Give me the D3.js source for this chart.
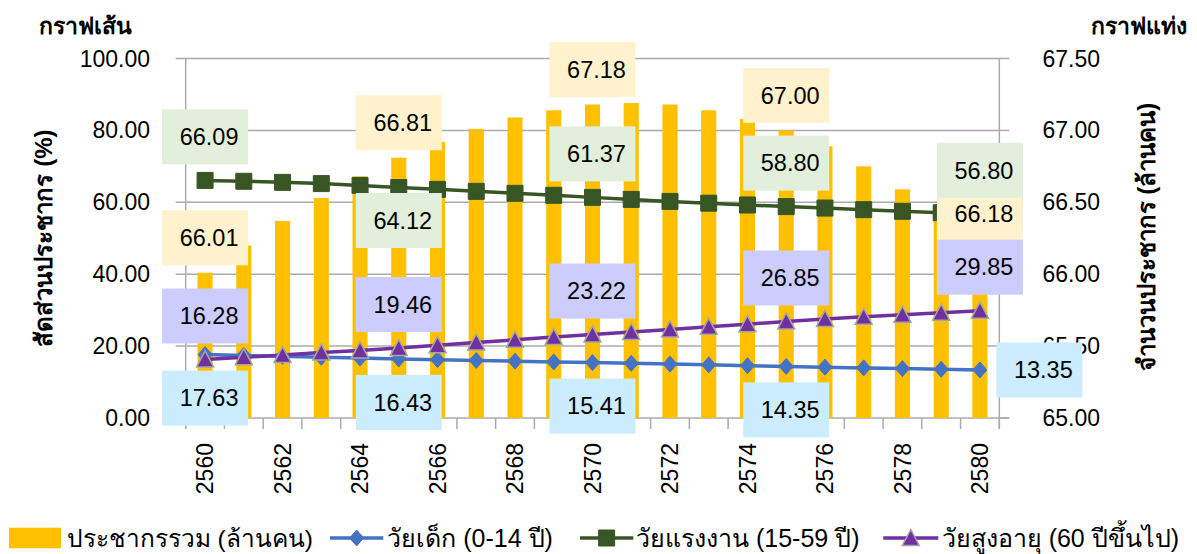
<!DOCTYPE html>
<html><head><meta charset="utf-8">
<script src="https://cdn.jsdelivr.net/npm/d3@7"></script>
<style>
body{margin:0;background:#fff}
text{font-family:"Liberation Sans",Arial,"Noto Sans",sans-serif;fill:#000}
</style>
</head><body>
<svg id="chart" width="1197" height="554"></svg>
<script>
// ---- data ----
const years = ["2560","2561","2562","2563","2564","2565","2566","2567","2568","2569","2570",
               "2571","2572","2573","2574","2575","2576","2577","2578","2579","2580"];
const totalPop = [66.01,66.20,66.37,66.53,66.68,66.81,66.92,67.01,67.09,67.14,67.18,
                  67.19,67.18,67.14,67.08,67.00,66.89,66.75,66.59,66.39,66.18];
const child = [17.63,17.40,17.15,16.90,16.66,16.43,16.22,16.02,15.82,15.61,15.41,
               15.20,14.99,14.78,14.56,14.35,14.14,13.94,13.74,13.54,13.35];
const working = [66.09,65.85,65.55,65.20,64.70,64.12,63.60,63.05,62.50,61.95,61.37,
                 60.80,60.25,59.75,59.25,58.80,58.40,57.95,57.50,57.10,56.80];
const elderly = [16.28,16.90,17.50,18.20,18.80,19.46,20.25,21.00,21.75,22.50,23.22,
                 23.95,24.65,25.35,26.10,26.85,27.55,28.15,28.75,29.30,29.85];
const leftTicks = [0,20,40,60,80,100];
const rightTicks = [65.00,65.50,66.00,66.50,67.00,67.50];
const xTickLabels = ["2560","2562","2564","2566","2568","2570","2572","2574","2576","2578","2580"];
const labelYears = ["2560","2565","2570","2575","2580"];
const seriesNames = ["ประชากรรวม (ล้านคน)","วัยเด็ก (0-14 ปี)","วัยแรงงาน (15-59 ปี)","วัยสูงอายุ (60 ปีขึ้นไป)"];
const leftTitle = "สัดส่วนประชากร (%)";
const rightTitle = "จำนวนประชากร (ล้านคน)";
const leftCorner = "กราฟเส้น";
const rightCorner = "กราฟแท่ง";

// ---- layout ----
const L = 185.7, R = 999.3, T = 58.5, B = 418;
const svg = d3.select("#chart");
const x = d3.scaleBand().domain(years).range([L, R]).padding(0);
const yL = d3.scaleLinear().domain([0,100]).range([B, T]);
const yR = d3.scaleLinear().domain([65,67.5]).range([B, T]);
const cx = d => x(d) + x.bandwidth()/2;
const grid = "#ABABAB";
const font = "23px";

// gridlines + left ticks
svg.append("g").selectAll("line").data(leftTicks.filter(v=>v>0)).join("line")
  .attr("x1", L-10).attr("x2", R).attr("y1", d=>yL(d)).attr("y2", d=>yL(d))
  .attr("stroke", grid).attr("stroke-width", 1.5);
// right ticks
svg.append("g").selectAll("line").data(rightTicks).join("line")
  .attr("x1", R).attr("x2", R+10).attr("y1", d=>yR(d)).attr("y2", d=>yR(d))
  .attr("stroke", grid).attr("stroke-width", 1.5);
// axis lines
svg.append("line").attr("x1",L).attr("x2",L).attr("y1",T).attr("y2",B+11).attr("stroke",grid).attr("stroke-width",1.5);
svg.append("line").attr("x1",R).attr("x2",R).attr("y1",T).attr("y2",B+11).attr("stroke",grid).attr("stroke-width",1.5);
svg.append("line").attr("x1",L-10).attr("x2",R+10).attr("y1",B).attr("y2",B).attr("stroke",grid).attr("stroke-width",1.5);
// category ticks
const edges = years.map(d=>x(d)).concat([R]);
svg.append("g").selectAll("line").data(edges).join("line")
  .attr("x1", d=>d).attr("x2", d=>d).attr("y1", B).attr("y2", B+11)
  .attr("stroke", grid).attr("stroke-width", 1.5);

// left tick labels
svg.append("g").selectAll("text").data(leftTicks).join("text")
  .attr("x", 150).attr("y", d=>yL(d)).attr("dy","0.35em").attr("text-anchor","end")
  .style("font-size", font).text(d=>d.toFixed(2));
// right tick labels
svg.append("g").selectAll("text").data(rightTicks).join("text")
  .attr("x", 1042.5).attr("y", d=>yR(d)).attr("dy","0.35em").attr("text-anchor","start")
  .style("font-size", font).text(d=>d.toFixed(2));
// x tick labels
svg.append("g").selectAll("text").data(xTickLabels).join("text")
  .attr("transform", d=>`translate(${cx(d)},443) rotate(-90)`)
  .attr("dy","0.35em").attr("text-anchor","end").style("font-size", font).text(d=>d);

// bars
const bw = x.bandwidth()*0.39;
svg.append("g").selectAll("rect").data(totalPop).join("rect")
  .attr("x", (d,i)=>cx(years[i]) - bw/2).attr("width", bw)
  .attr("y", d=>yR(d)).attr("height", d=>B - yR(d)).attr("fill","#FFC000");

// lines
const lineGen = d3.line().x((d,i)=>cx(years[i])).y(d=>yL(d));
const lineSpecs = [
  {data: child, color:"#4472C4", marker:"diamond", lw:3.5},
  {data: working, color:"#375623", marker:"square", lw:3.5},
  {data: elderly, color:"#7030A0", marker:"triangle", lw:3.5}
];
lineSpecs.forEach(s=>{
  svg.append("path").datum(s.data).attr("d", lineGen).attr("fill","none")
    .attr("stroke", s.color).attr("stroke-width", s.lw).attr("stroke-linejoin","round");
});
function markerPath(type){
  if(type==="diamond") return "M0,-8L7,0L0,8L-7,0Z";
  if(type==="square") return "M-8,-8H8V8H-8Z";
  return "M0,-8.5L8.5,7.5L-8.5,7.5Z";
}
lineSpecs.forEach(s=>{
  svg.append("g").selectAll("path").data(s.data).join("path")
    .attr("transform",(d,i)=>`translate(${cx(years[i])},${yL(d)})`)
    .attr("d", markerPath(s.marker)).attr("fill", s.color)
    .attr("stroke", s.marker==="triangle" ? "#A5A5A5" : s.color)
    .attr("stroke-width", s.marker==="triangle" ? 1.5 : 1);
});

// data labels
const BW = 86, BH = 55;
function drawLabel(px, py, pos, val, bg){
  let bx, by;
  if(pos==="top"){ bx = px-BW/2; by = py-7.5-BH; }
  else if(pos==="above"){ bx = px-BW/2; by = py-16-BH; }
  else if(pos==="below"){ bx = px-BW/2; by = py+16; }
  else if(pos==="belowNear"){ bx = px-BW/2; by = py+5.5; }
  else { bx = px+16.4; by = py-BH/2; }
  svg.append("rect").attr("x",bx).attr("y",by).attr("width",BW).attr("height",BH).attr("fill",bg);
  svg.append("text").attr("x",bx+BW/2+4).attr("y",by+BH/2).attr("dy","0.35em")
    .attr("text-anchor","middle").style("font-size","23.5px").text(val.toFixed(2));
}
const labelSets = [
  {data: totalPop, scale: yR, pos:["top","top","top","top","top"], bg:"#FFF2CC"},
  {data: working, scale: yL, pos:["above","belowNear","above","above","above"], bg:"#E2EFDA"},
  {data: elderly, scale: yL, pos:["above","above","above","above","above"], bg:"#CCCCFF"},
  {data: child, scale: yL, pos:["below","below","below","below","right"], bg:"#CCECFF"}
];
labelSets.forEach(s=>{
  labelYears.forEach((yr,k)=>{
    const i = years.indexOf(yr);
    drawLabel(cx(yr), s.scale(s.data[i]), s.pos[k], s.data[i], s.bg);
  });
});

// titles
svg.append("text").attr("x",39).attr("y",34).style("font-size","23px").style("font-weight","bold").text(leftCorner);
svg.append("text").attr("x",1187).attr("y",34).attr("text-anchor","end").style("font-size","23px").style("font-weight","bold").text(rightCorner);
svg.append("text").attr("transform","translate(52,238) rotate(-90)").attr("text-anchor","middle")
  .style("font-size","24px").style("font-weight","bold").text(leftTitle);
svg.append("text").attr("transform","translate(1155,237) rotate(-90)").attr("text-anchor","middle")
  .style("font-size","24px").style("font-weight","bold").text(rightTitle);

// legend
const lg = svg.append("g");
const ly = 538;
const legFont = "25px";
lg.append("rect").attr("x",9).attr("y",527.7).attr("width",52).attr("height",20.6).attr("fill","#FFC000");
lg.append("text").attr("x",66.7).attr("y",ly).attr("dy","0.35em").style("font-size","24.5px").text(seriesNames[0]);
const legLines = [
  {x0:330, x1:383.3, tx:387.3, s:lineSpecs[0], name:seriesNames[1]},
  {x0:580, x1:633.3, tx:636, s:lineSpecs[1], name:seriesNames[2]},
  {x0:883.3, x1:938.3, tx:941.7, s:lineSpecs[2], name:seriesNames[3]}
];
legLines.forEach(o=>{
  lg.append("line").attr("x1",o.x0).attr("x2",o.x1).attr("y1",ly).attr("y2",ly)
    .attr("stroke",o.s.color).attr("stroke-width",o.s.lw);
  lg.append("path").attr("transform",`translate(${(o.x0+o.x1)/2},${ly})`).attr("d",markerPath(o.s.marker))
    .attr("fill",o.s.color).attr("stroke", o.s.marker==="triangle" ? "#A5A5A5" : o.s.color)
    .attr("stroke-width", o.s.marker==="triangle" ? 1.5 : 1);
  lg.append("text").attr("x",o.tx).attr("y",ly).attr("dy","0.35em").style("font-size",legFont).text(o.name);
});
</script>
</body></html>
